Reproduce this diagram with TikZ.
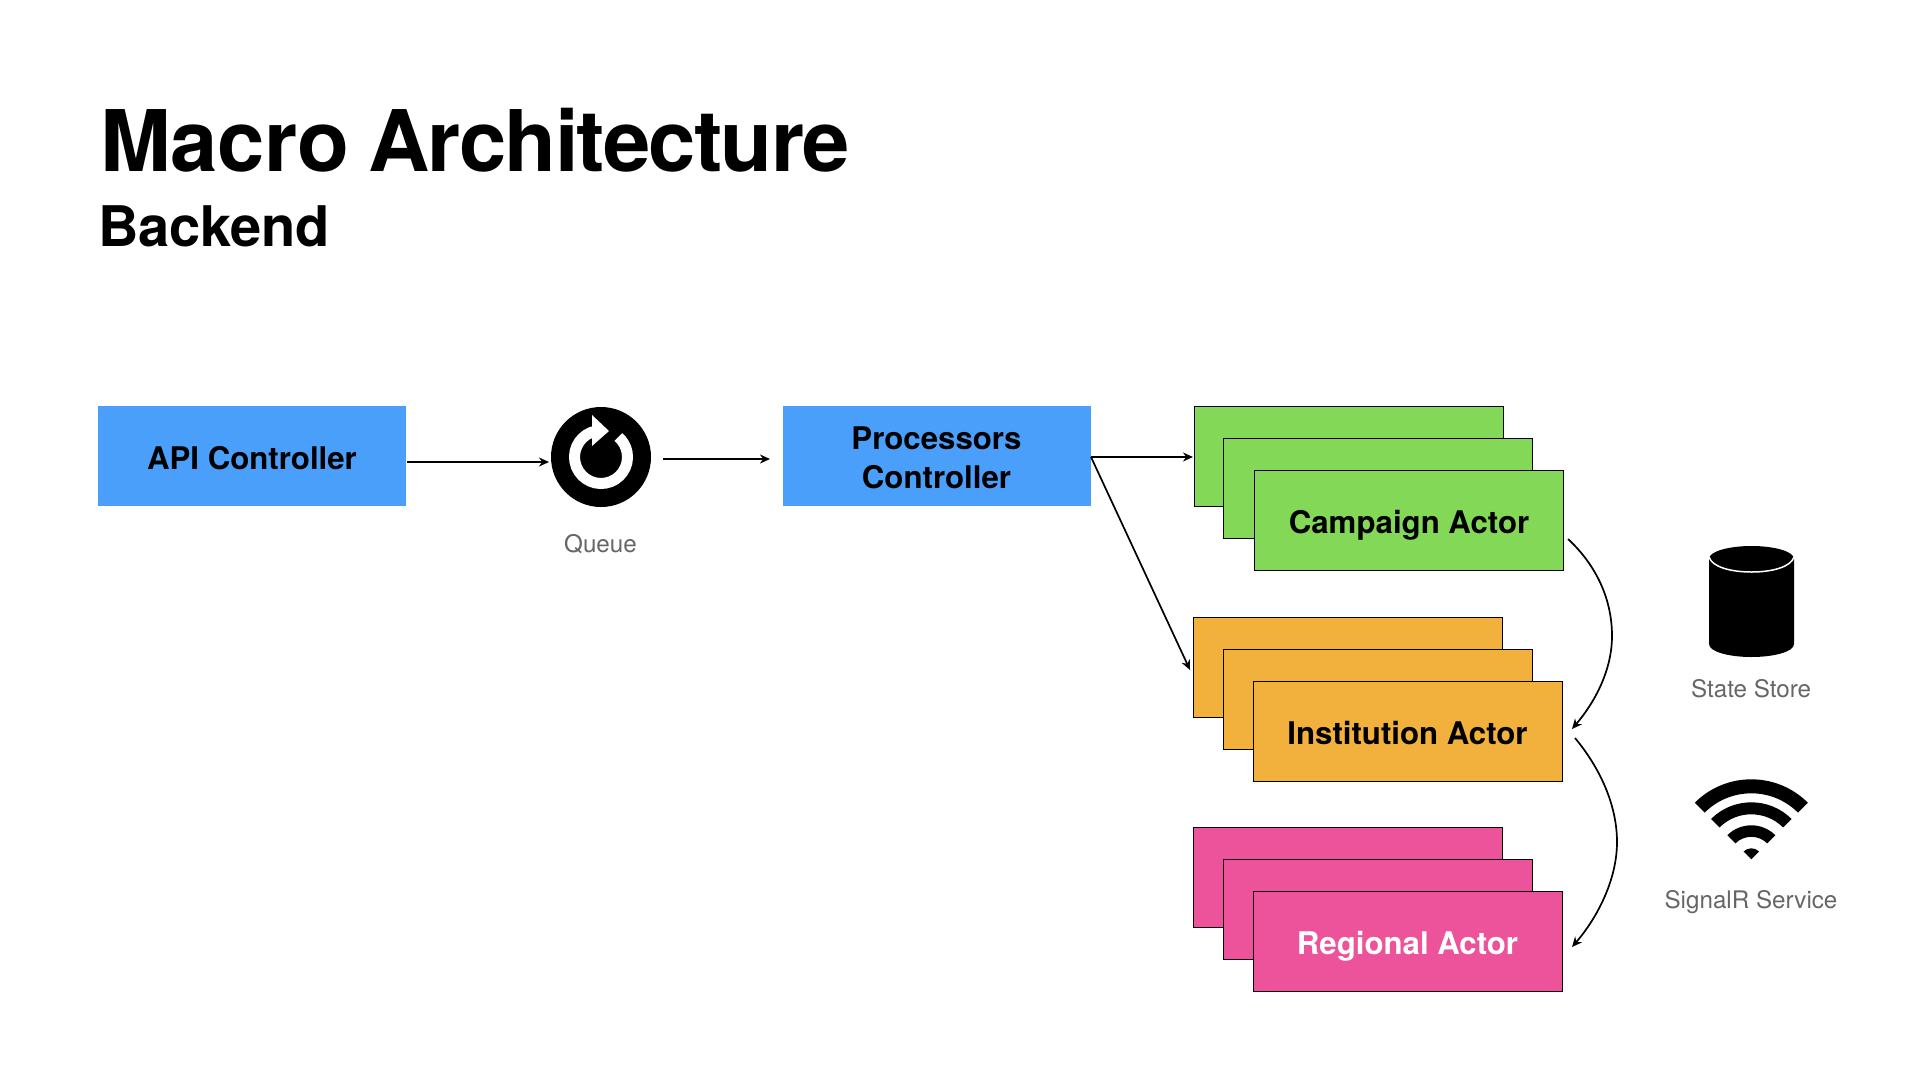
\documentclass[tikz,border=0pt]{standalone}
\usepackage{fontspec}
\setmainfont{TeX Gyre Heros}
\usetikzlibrary{arrows.meta}
\definecolor{bluebox}{HTML}{4A9FFB}
\definecolor{greenbox}{HTML}{84D857}
\definecolor{orangebox}{HTML}{F2B03C}
\definecolor{pinkbox}{HTML}{EC539B}
\definecolor{graytext}{HTML}{666666}
\tikzset{
  conn/.style={line width=1.7pt,-{Stealth[length=10pt,width=9pt]}},
  bluerect/.style={fill=bluebox,minimum width=308pt,minimum height=100pt,inner sep=0pt,align=center,text height=26pt,text depth=0pt,font=\fontsize{31.2}{39}\selectfont\bfseries},
  actor/.style={draw=black,line width=1pt,minimum width=309pt,minimum height=100pt,inner sep=0pt,text height=26pt,text depth=0pt,font=\fontsize{31.2}{39}\selectfont\bfseries},
  iconlabel/.style={text=graytext,inner sep=0pt,font=\fontsize{24.2}{30}\selectfont,anchor=base},
  titletext/.style={inner sep=0pt,anchor=base west,font=\fontsize{85}{100}\selectfont\bfseries},
  subtitletext/.style={inner sep=0pt,anchor=base west,font=\fontsize{56}{66}\selectfont\bfseries\addfontfeatures{LetterSpace=-0.3}},
}
\begin{document}
\begin{tikzpicture}[x=1pt,y=-1pt]
\useasboundingbox (0,0) rectangle (1920,1080);
\fill[white] (0,0) rectangle (1920,1080);
\node[titletext] (title) at (100,171) {{\addfontfeatures{LetterSpace=-0.3}Macro}\kern-5pt\ {\addfontfeatures{LetterSpace=-2}Architecture}};
\node[subtitletext] (subtitle) at (98,246) {Backend};
% main boxes
\node[bluerect] (api) at (252,456) {API Controller};
\node[bluerect,text height=65pt] (proc) at (936.5,456) {Processors\\Controller};
\node[circle,fill=black,minimum size=100pt,inner sep=0pt] (queue) at (601,457) {};
\draw[white,line width=11pt] (queue.center) ++(100:26.5pt) arc[start angle=100,end angle=409,radius=26.5pt];
\fill[white] (592,415) -- (609,431) -- (592,446) -- cycle;
\node[iconlabel] (queuelabel) at (600.5,552) {Queue};
% campaign
\node[actor,fill=greenbox] (c1) at (1349,456) {};
\node[actor,fill=greenbox] (c2) at (1378,488) {};
\node[actor,fill=greenbox] (c3) at (1409,520) {Campaign Actor};
% institution
\node[actor,fill=orangebox] (i1) at (1347.5,667) {};
\node[actor,fill=orangebox] (i2) at (1378,699) {};
\node[actor,fill=orangebox] (i3) at (1407.5,731) {Institution Actor};
% regional
\node[actor,fill=pinkbox] (r1) at (1347.5,877) {};
\node[actor,fill=pinkbox] (r2) at (1378,909) {};
\node[actor,fill=pinkbox,text=white] (r3) at (1407.5,941) {Regional Actor};
% connector ends
\coordinate (a1) at (407,462);
\coordinate (a2) at (549,462);
\coordinate (q1) at (663,459);
\coordinate (q2) at (770,459);
\coordinate (p1) at (1091,457);
\coordinate (p2) at (1193,457);
\coordinate (p3) at (1190,670);
\coordinate (cs) at (1568,539);
\coordinate (ce) at (1572,729);
\coordinate (is) at (1575,738);
\coordinate (ie) at (1572,947);
\draw[conn] (a1) -- (a2);
\draw[conn] (q1) -- (q2);
\draw[conn] (p1) -- (p2);
\draw[conn] (p1) -- (p3);
\draw[conn] (cs) .. controls (1597,566) and (1612,600) .. (1612,636) .. controls (1612,670) and (1595,702) .. (ce);
\draw[conn] (is) .. controls (1600,768) and (1617,805) .. (1617,842) .. controls (1617,880) and (1597,918) .. (ie);
% state store
\fill[black] (1709,559) .. controls (1709,551) and (1730,546) .. (1751.5,546) .. controls (1773,546) and (1794,551) .. (1794,559) -- (1794,644) .. controls (1794,652) and (1773,657) .. (1751.5,657) .. controls (1730,657) and (1709,652) .. (1709,644) -- cycle;
\draw[white,line width=1.5pt] (1709,557) .. controls (1712,567) and (1731,572) .. (1751.5,572) .. controls (1772,572) and (1791,567) .. (1794,557);
\node[iconlabel] (storelabel) at (1751,697) {State Store};
% signalr
\coordinate (w) at (1751.3,859.3);
\fill[black] (w) ++(45:66pt) arc[start angle=45,end angle=135,radius=66pt] -- ++(135:14pt) arc[start angle=135,end angle=45,radius=80pt] -- cycle;
\fill[black] (w) ++(45:45pt) arc[start angle=45,end angle=135,radius=45pt] -- ++(135:12pt) arc[start angle=135,end angle=45,radius=57pt] -- cycle;
\fill[black] (w) ++(45:22.5pt) arc[start angle=45,end angle=135,radius=22.5pt] -- ++(135:11.5pt) arc[start angle=135,end angle=45,radius=34pt] -- cycle;
\fill[black] (w) -- ++(45:11pt) arc[start angle=45,end angle=135,radius=11pt] -- cycle;
\node[iconlabel] (signallabel) at (1751,908) {SignalR Service};
\end{tikzpicture}
\end{document}
